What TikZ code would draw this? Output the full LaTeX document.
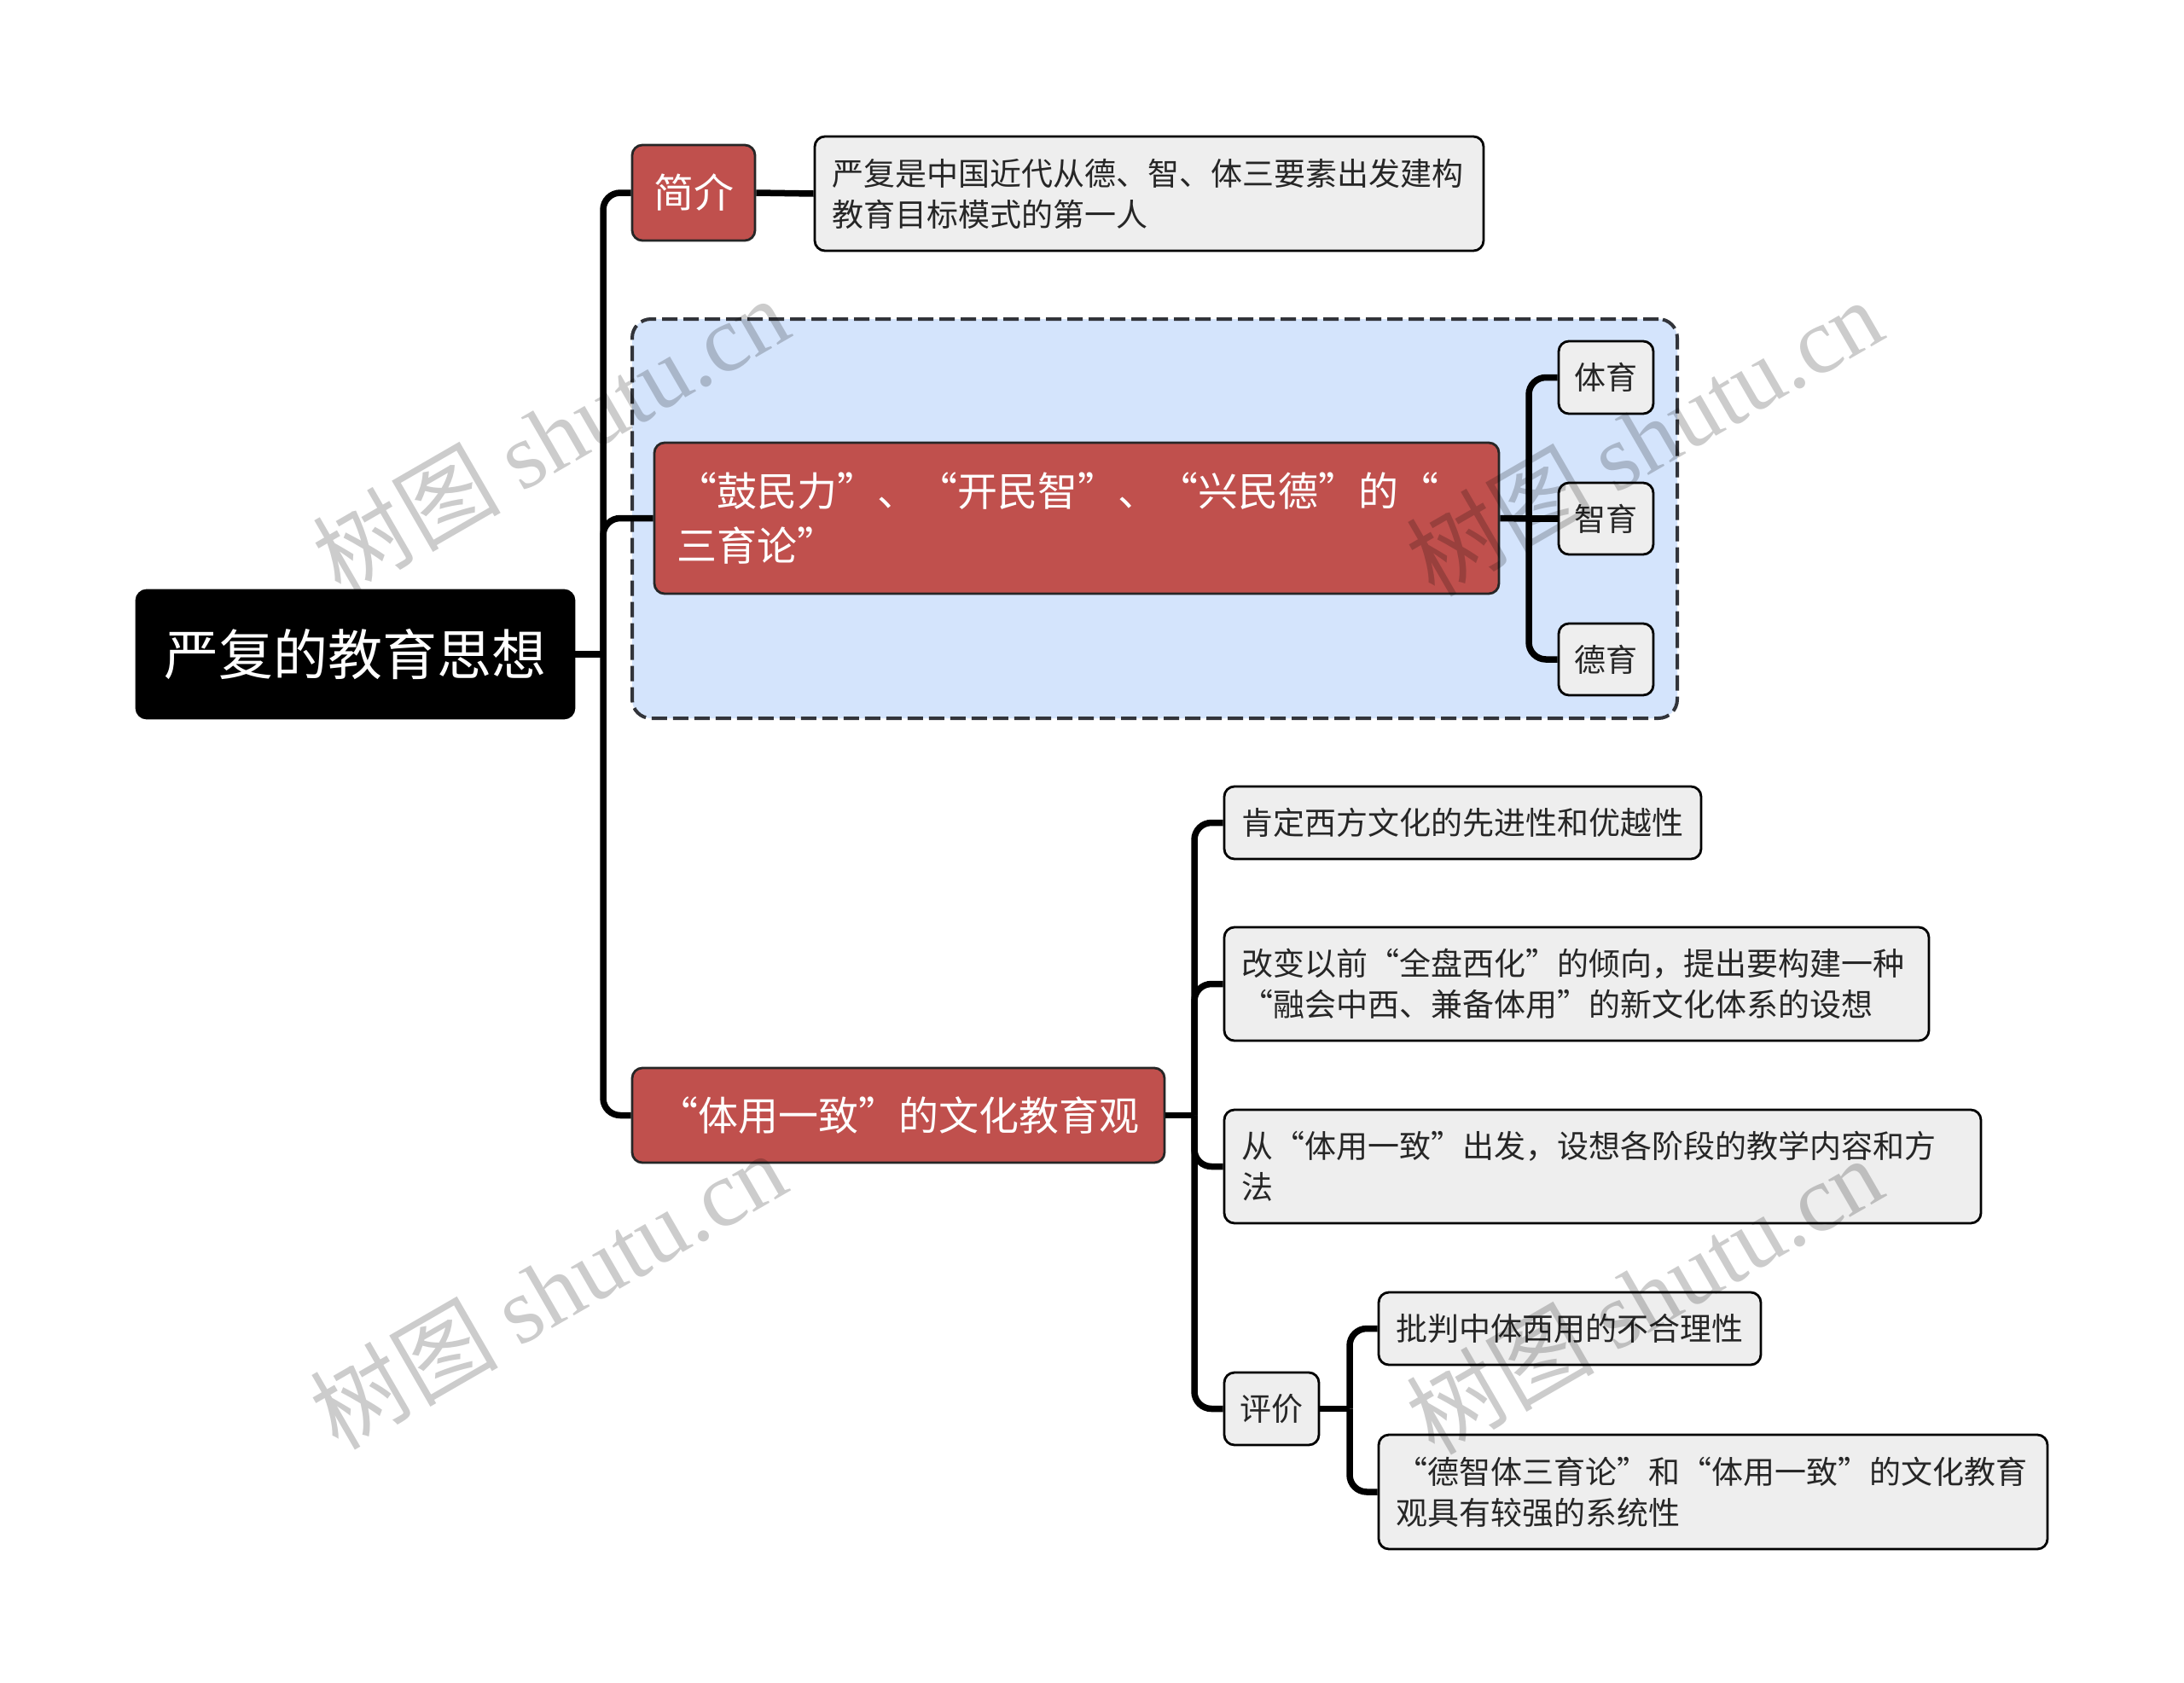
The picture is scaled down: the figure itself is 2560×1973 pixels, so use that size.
\documentclass[tikz,border=0pt]{standalone}
\usepackage{fontspec}
\setmainfont{Noto Sans CJK SC}
\newfontfamily\wmlatin{Liberation Serif}
\definecolor{myred}{RGB}{192,80,77}
\definecolor{mygray}{RGB}{238,238,238}
\definecolor{myblue}{RGB}{212,228,252}
\definecolor{dashcol}{RGB}{50,52,58}
\begin{document}
\begin{tikzpicture}[x=1pt,y=-1pt,
  box/.style={rounded corners=12pt, line width=2.8pt, inner sep=0pt, align=center},
  rootbox/.style={box, fill=black, draw=black, text=white, font=\fontsize{64pt}{76pt}\selectfont},
  redbox/.style={box, fill=myred, draw=black!85, text=white, font=\fontsize{47pt}{64pt}\selectfont},
  graybox/.style={box, fill=mygray, draw=black, text=black!85, font=\fontsize{37pt}{48pt}\selectfont},
  groupbox/.style={rounded corners=22pt, fill=myblue, draw=dashcol, line width=4pt, dash pattern=on 18pt off 7pt, inner sep=0pt},
  conn/.style={line width=7.5pt, rounded corners=20pt, black},
  wm/.style={font=\fontsize{110pt}{120pt}\selectfont, text=black, opacity=0.2, rotate=30, inner sep=0pt}
]
\useasboundingbox (0,0) rectangle (2560,1973);
\fill[white] (0,0) rectangle (2560,1973);

% group container
\node[groupbox, minimum width=1225pt, minimum height=468pt] (grp) at (1353.5,608) {};

% nodes
\node[rootbox, minimum width=513pt, minimum height=150pt] (root) at (416.5,767) {严复的教育思想};
\node[redbox, minimum width=144pt, minimum height=112pt] (intro) at (813,226) {简介};
\node[graybox, minimum width=784pt, minimum height=134pt, text width=744pt, align=left] (introtxt) at (1347,227)
  {严复是中国近代从德、智、体三要素出发建构\\教育目标模式的第一人};
\node[redbox, minimum width=990pt, minimum height=177pt, text width=938pt, align=left] (sanyu) at (1262,607.5)
  {“鼓民力”、“开民智”、“兴民德”的“\\三育论”};
\node[graybox, minimum width=111pt, minimum height=85pt] (ty) at (1882.5,442.5) {体育};
\node[graybox, minimum width=111pt, minimum height=84pt] (zy) at (1882.5,608) {智育};
\node[graybox, minimum width=111pt, minimum height=84pt] (dy) at (1882.5,773) {德育};
\node[redbox, minimum width=624pt, minimum height=111pt] (tiyong) at (1053,1307.5) {“体用一致”的文化教育观};
\node[graybox, minimum width=559pt, minimum height=85pt] (k1) at (1714.5,964.5) {肯定西方文化的先进性和优越性};
\node[graybox, minimum width=826pt, minimum height=133pt, text width=786pt, align=left] (k2) at (1848,1153.5)
  {改变以前“全盘西化”的倾向，提出要构建一种\\“融会中西、兼备体用”的新文化体系的设想};
\node[graybox, minimum width=887pt, minimum height=133pt, text width=847pt, align=left] (k3) at (1878.5,1367.5)
  {从“体用一致”出发，设想各阶段的教学内容和方\\法};
\node[graybox, minimum width=111pt, minimum height=85pt] (pj) at (1490.5,1651.5) {评价};
\node[graybox, minimum width=448pt, minimum height=85pt] (p1) at (1840,1557.5) {批判中体西用的不合理性};
\node[graybox, minimum width=784pt, minimum height=134pt, text width=744pt, align=left] (p2) at (2008,1749)
  {“德智体三育论”和“体用一致”的文化教育\\观具有较强的系统性};

% junctions
\coordinate (J1) at (707,767);
\coordinate (J2) at (1400,1307.5);
\coordinate (J3) at (1582,1651.5);
\coordinate (J4) at (1792,608);

% connectors
\draw[conn] (root.east) -- (J1);
\draw[conn] (J1) |- (intro.west);
\draw[conn] (J1) |- (sanyu.west);
\draw[conn] (J1) |- (tiyong.west);
\draw[conn] (intro.east) -- (introtxt.west);
\draw[conn] (sanyu.east) -- (J4);
\draw[conn] (J4) |- (ty.west);
\draw[conn] (J4) -- (zy.west);
\draw[conn] (J4) |- (dy.west);
\draw[conn] (tiyong.east) -- (J2);
\draw[conn] (J2) |- (k1.west);
\draw[conn] (J2) |- (k2.west);
\draw[conn] (J2) |- (k3.west);
\draw[conn] (J2) |- (pj.west);
\draw[conn] (pj.east) -- (J3);
\draw[conn] (J3) |- (p1.west);
\draw[conn] (J3) |- (p2.west);

% watermarks
\node[wm] (wm1) at (645,510) {树图 {\wmlatin shutu.cn}};
\node[wm] (wm2) at (1927,512) {树图 {\wmlatin shutu.cn}};
\node[wm] (wm3) at (642,1512) {树图 {\wmlatin shutu.cn}};
\node[wm] (wm4) at (1927,1518) {树图 {\wmlatin shutu.cn}};
\end{tikzpicture}
\end{document}
